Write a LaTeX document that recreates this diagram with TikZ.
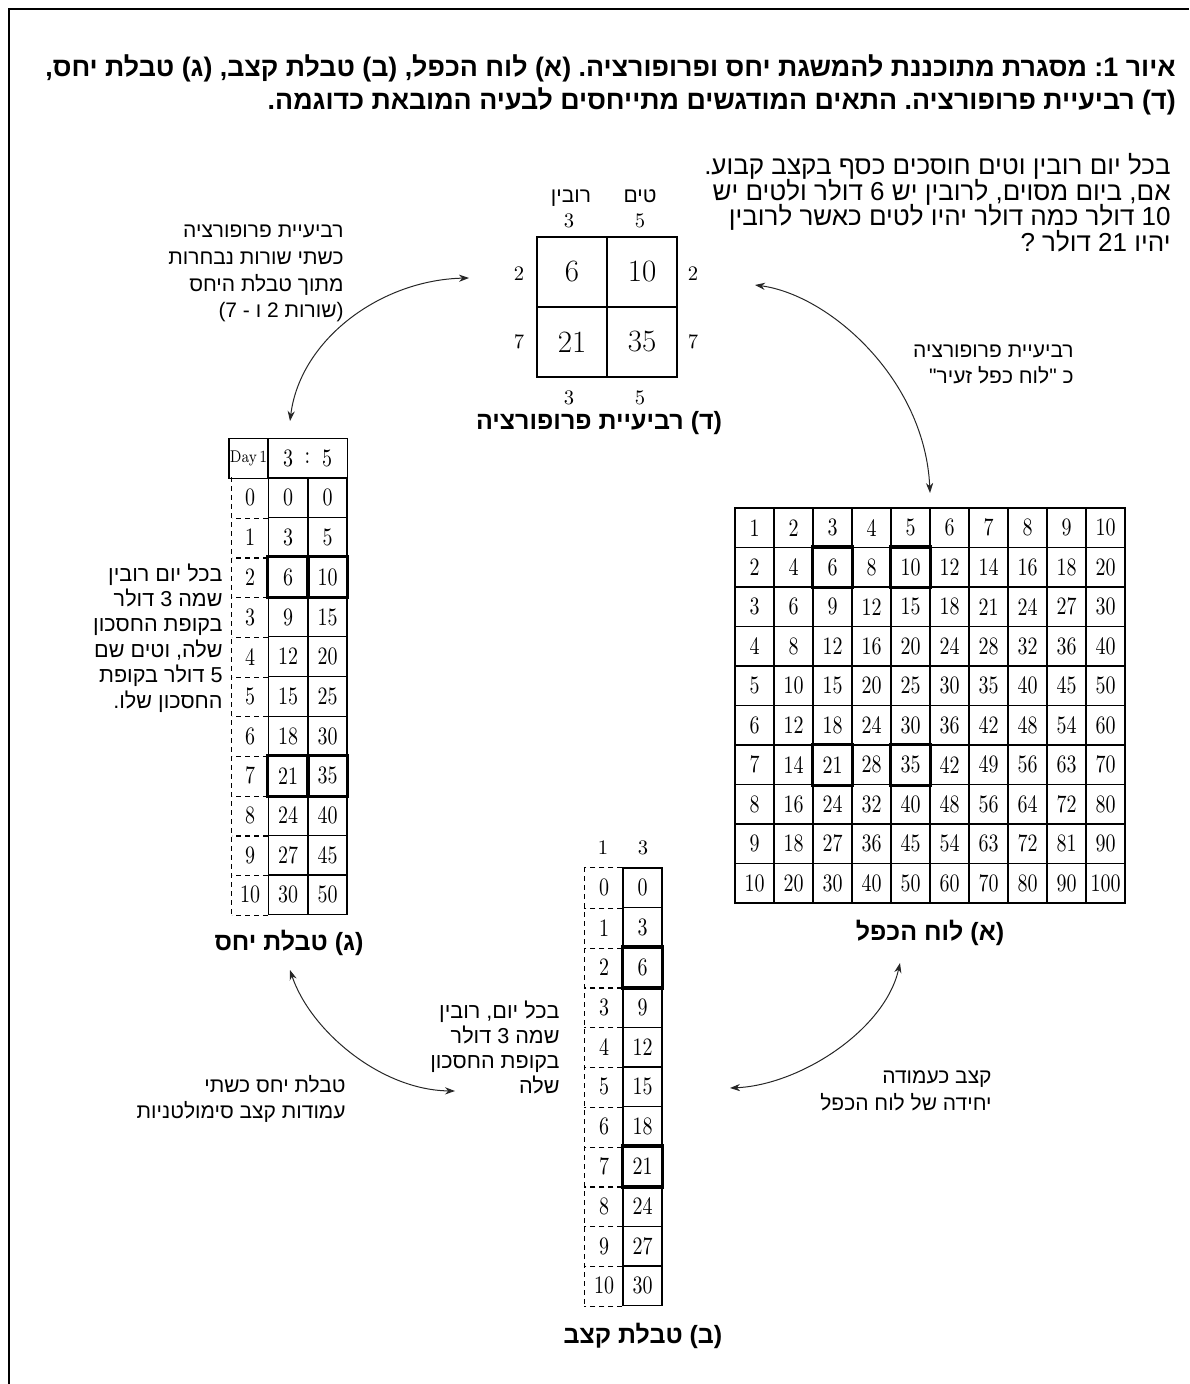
\documentclass[tikz,border=0pt]{standalone}
\usepackage{fontspec}
\usepackage{graphicx}
\usetikzlibrary{arrows.meta}
\TeXXeTstate=1
\frenchspacing
\newfontfamily\heb[Script=Hebrew]{Liberation Sans}
\newcommand\hR[1]{\beginR#1\endR}
\newcommand\vst[1]{\scalebox{1}[1.25]{#1}}
\tikzset{
  hebtxt/.style={font=\heb\fontsize{10.5}{12}\selectfont, inner sep=0pt, anchor=base east},
  hebmid/.style={font=\heb\fontsize{10.8}{13}\selectfont, inner sep=0pt, anchor=base east},
  hebbig/.style={font=\heb\fontsize{13}{15}\selectfont, inner sep=0pt, anchor=base east},
  ttl/.style={font=\heb\bfseries\fontsize{13.4}{15}\selectfont, inner sep=0pt, anchor=base east},
  capt/.style={font=\heb\bfseries\fontsize{12.5}{14}\selectfont, inner sep=0pt, anchor=base},
  mcell/.style={draw, line width=0.6pt, minimum width=19.5pt, minimum height=19.75pt, inner sep=0pt, font=\fontsize{10}{12}\selectfont},
  rcell/.style={draw, line width=0.6pt, minimum width=19.75pt, minimum height=19.85pt, inner sep=0pt, font=\fontsize{10}{12}\selectfont},
  dnum/.style={inner sep=0pt, font=\fontsize{10}{12}\selectfont},
  qcell/.style={draw, line width=0.6pt, minimum width=35pt, minimum height=35pt, inner sep=0pt, font=\fontsize{15.5}{18}\selectfont},
  qlab/.style={inner sep=0pt, font=\fontsize{10.3}{12}\selectfont},
  hl/.style={draw, line width=1.6pt},
  dsh/.style={draw, line width=0.6pt, dash pattern=on 2.5pt off 2pt},
  arr/.style={{Stealth[length=5pt,width=3.6pt]}-{Stealth[length=5pt,width=3.6pt]}, line width=0.5pt, black!85},
  frameln/.style={draw, line width=0.6pt}
}
\begin{document}
\begin{tikzpicture}[x=0.5pt,y=-0.5pt]
\useasboundingbox (0,0) rectangle (1189,1384);
% frame
\coordinate (f1) at (9,1384);
\coordinate (f2) at (9,9);
\coordinate (f3) at (1189,9);
\draw[frameln] (f1) -- (f2) -- (f3);

% title
\node[ttl] (t1) at (1176,77) {\hR{איור 1: מסגרת מתוכננת להמשגת יחס ופרופורציה. (א) לוח הכפל, (ב) טבלת קצב, (ג) טבלת יחס,}};
\node[ttl] (t2) at (1176,110) {\hR{(ד) רביעיית פרופורציה. התאים המודגשים מתייחסים לבעיה המובאת כדוגמה.}};

% problem text
\node[hebbig] (p1) at (1171,175) {\hR{בכל יום רובין וטים חוסכים כסף בקצב קבוע.}};
\node[hebbig] (p2) at (1171,200.5) {\hR{אם, ביום מסוים, לרובין יש 6 דולר ולטים יש}};
\node[hebbig] (p3) at (1171,226) {\hR{10 דולר כמה דולר יהיו לטים כאשר לרובין}};
\node[hebbig] (p4) at (1171,251.5) {\hR{יהיו 21 דולר ?}};

% (D) 2x2 proportion
\node[qcell] (q11) at (572,272) {6};
\node[qcell] (q12) at (642,272) {10};
\node[qcell] (q21) at (572,342) {21};
\node[qcell] (q22) at (642,342) {35};
\node[hebtxt, anchor=base] (qn1) at (571,203) {\hR{רובין}};
\node[hebtxt, anchor=base] (qn2) at (640,203) {\hR{טים}};
\node[qlab] (qt1) at (569,221) {3};
\node[qlab] (qt2) at (640,221) {5};
\node[qlab] (qb1) at (569,398) {3};
\node[qlab] (qb2) at (640,398) {5};
\node[qlab] (ql1) at (519,274) {2};
\node[qlab] (ql2) at (519,342) {7};
\node[qlab] (qr1) at (693,274) {2};
\node[qlab] (qr2) at (693,342) {7};
\node[capt] (capD) at (599,430) {\hR{(ד) רביעיית פרופורציה}};

% (A) multiplication table
\foreach \rr in {1,...,10} {
  \foreach \cc in {1,...,10} {
    \pgfmathtruncatemacro\vv{\rr*\cc}
    \node[mcell] (m-\rr-\cc) at ({735+39*(\cc-0.5)},{508+39.5*(\rr-0.5)}) {\vst{\vv}};
  }
}
\foreach \rr/\cc in {2/3,2/5,7/3,7/5} {
  \draw[hl] (m-\rr-\cc.north west) rectangle (m-\rr-\cc.south east);
}
\node[capt] (capA) at (930,940) {\hR{(א) לוח הכפל}};

% (C) ratio table
\node[draw, line width=0.6pt, minimum width=19.5pt, minimum height=20pt, inner sep=0pt, font=\fontsize{6.8}{8}\selectfont] (rday) at (248.5,458.5) {\vst{Day\,1}};
\node[draw, line width=0.6pt, minimum width=39.5pt, minimum height=20pt, inner sep=0pt] (rhead) at (307.75,458.5) {};
\node[dnum] (rh3) at (288,458.5) {\vst{3}};
\node[dnum] (rhc) at (307.5,458.5) {\vst{:}};
\node[dnum] (rh5) at (327,458.5) {\vst{5}};
\foreach \rr in {0,...,10} {
  \pgfmathtruncatemacro\va{3*\rr}
  \pgfmathtruncatemacro\vb{5*\rr}
  \node[dnum] (rd-\rr) at (250,{478+39.7*(\rr+0.5)}) {\vst{\rr}};
  \node[rcell] (ra-\rr) at (288,{478+39.7*(\rr+0.5)}) {\vst{\va}};
  \node[rcell, minimum width=19.5pt] (rb-\rr) at (327.5,{478+39.7*(\rr+0.5)}) {\vst{\vb}};
  \draw[dsh] (ra-\rr.south west) -- ++(-36,0);
}
\draw[dsh] ([xshift=-18pt]ra-0.north west) -- ([xshift=-18pt]ra-10.south west);
\foreach \rr in {2,7} {
  \draw[hl] (ra-\rr.north west) rectangle (ra-\rr.south east);
  \draw[hl] (rb-\rr.north west) rectangle (rb-\rr.south east);
}
\node[capt] (capC) at (289,950) {\hR{(ג) טבלת יחס}};
\node[hebmid] (c1) at (223,581) {\hR{בכל יום רובין}};
\node[hebmid] (c2) at (223,606) {\hR{שמה 3 דולר}};
\node[hebmid] (c3) at (223,631.5) {\hR{בקופת החסכון}};
\node[hebmid] (c4) at (223,657) {\hR{שלה, וטים שם}};
\node[hebmid] (c5) at (223,682.5) {\hR{5 דולר בקופת}};
\node[hebmid] (c6) at (223,708) {\hR{החסכון שלו.}};

% (B) rate table
\node[qlab] (bh1) at (603,848) {1};
\node[qlab] (bh3) at (643,848) {3};
\foreach \rr in {0,...,10} {
  \pgfmathtruncatemacro\va{3*\rr}
  \node[dnum] (bd-\rr) at (604,{868+39.8*(\rr+0.5)}) {\vst{\rr}};
  \node[rcell, minimum width=19.5pt, minimum height=19.9pt] (bv-\rr) at (642.5,{868+39.8*(\rr+0.5)}) {\vst{\va}};
  \draw[dsh] (bv-\rr.south west) -- ++(-38,0);
}
\draw[dsh] (bv-0.north west) -- ++(-38,0);
\draw[dsh] ([xshift=-19pt]bv-0.north west) -- ([xshift=-19pt]bv-10.south west);
\foreach \rr in {2,7} {
  \draw[hl] (bv-\rr.north west) rectangle (bv-\rr.south east);
}
\node[capt] (capB) at (643,1343) {\hR{(ב) טבלת קצב}};
\node[hebmid] (b1) at (560,1018) {\hR{בכל יום, רובין}};
\node[hebmid] (b2) at (560,1043) {\hR{שמה 3 דולר}};
\node[hebmid] (b3) at (560,1068) {\hR{בקופת החסכון}};
\node[hebmid] (b4) at (560,1093) {\hR{שלה}};

% connector labels
\node[hebtxt] (l1a) at (344,238) {\hR{רביעיית פרופורציה}};
\node[hebtxt] (l1b) at (344,265) {\hR{כשתי שורות נבחרות}};
\node[hebtxt] (l1c) at (344,292) {\hR{מתוך טבלת היחס}};
\node[hebtxt] (l1d) at (344,318) {\hR{(שורות 2 ו - 7)}};
\node[hebtxt] (l2a) at (1074,358) {\hR{רביעיית פרופורציה}};
\node[hebtxt] (l2b) at (1074,384) {\hR{כ "לוח כפל זעיר"}};
\node[hebtxt] (l3a) at (346,1092) {\hR{טבלת יחס כשתי}};
\node[hebtxt] (l3b) at (346,1118) {\hR{עמודות קצב סימולטניות}};
\node[hebtxt] (l4a) at (992,1083) {\hR{קצב כעמודה}};
\node[hebtxt] (l4b) at (992,1110) {\hR{יחידה של לוח הכפל}};

% connectors
\coordinate (a1s) at (290,421);
\coordinate (a1e) at (469,278);
\coordinate (a2s) at (755,285);
\coordinate (a2e) at (930,493);
\coordinate (a3s) at (290,970);
\coordinate (a3e) at (455,1091);
\coordinate (a4s) at (900,963);
\coordinate (a4e) at (730,1088);
\draw[arr] (a1s) .. controls (300,340) and (380,280) .. (a1e);
\draw[arr] (a2s) .. controls (830,295) and (925,380) .. (a2e);
\draw[arr] (a3s) .. controls (310,1030) and (380,1090) .. (a3e);
\draw[arr] (a4s) .. controls (885,1030) and (800,1085) .. (a4e);
\end{tikzpicture}
\end{document}
